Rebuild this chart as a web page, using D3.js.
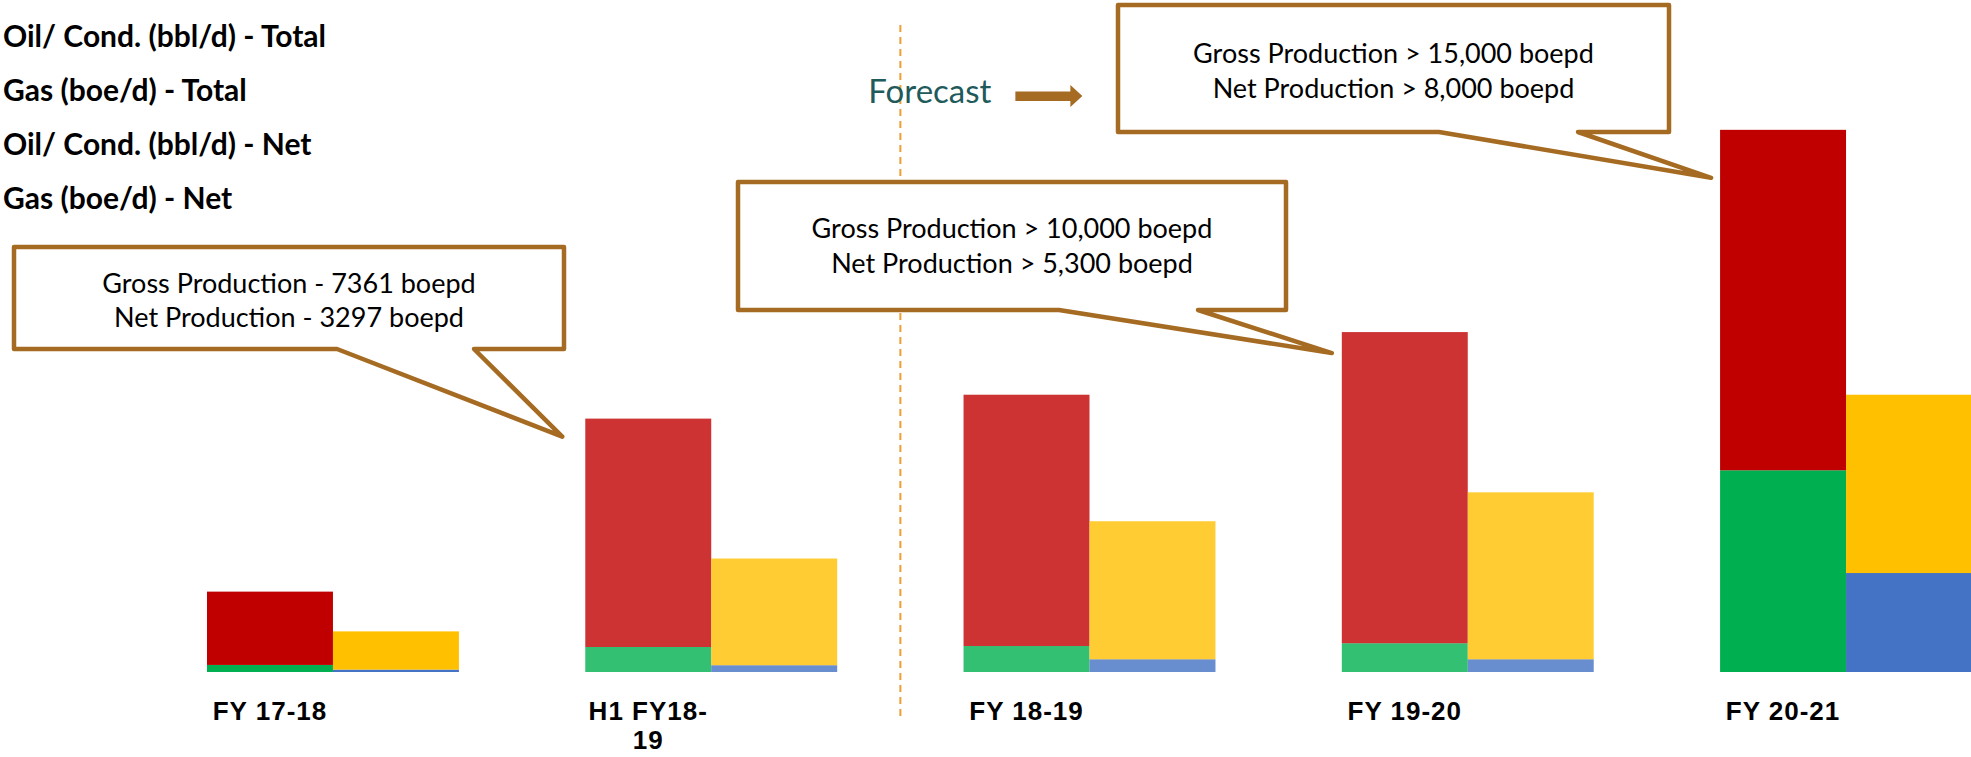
<!DOCTYPE html>
<html>
<head>
<meta charset="utf-8">
<script src="https://cdn.jsdelivr.net/npm/d3@7"></script>
<style>
  body { margin: 0; background: #fff; }
  svg { display: block; }
</style>
</head>
<body>
<svg id="chart" width="1971" height="757"></svg>
<script>
// data (boepd)
var categories = ["FY 17-18", "H1 FY18-19", "FY 18-19", "FY 19-20", "FY 20-21"];
var oilTotal = [2130, 6635, 7300, 9040, 9890];
var gasTotal = [205, 726, 755, 835, 5860];
var oilNet   = [1110, 3100, 4010, 4850, 5180];
var gasNet   = [70, 197, 370, 370, 2875];

var legendLabels = ["Oil/ Cond. (bbl/d) - Total", "Gas (boe/d) - Total",
                    "Oil/ Cond. (bbl/d) - Net", "Gas (boe/d) - Net"];

var calloutCats = ["H1 FY18-19", "FY 19-20", "FY 20-21"];
var calloutText = [
  ["Gross Production - 7361 boepd", "Net Production - 3297 boepd"],
  ["Gross Production > 10,000 boepd", "Net Production > 5,300 boepd"],
  ["Gross Production > 15,000 boepd", "Net Production > 8,000 boepd"]
];
var forecastLabel = "Forecast";
var forecastStart = "FY 18-19";

var svg = d3.select("#chart");
var baseY = 672;

var rows = categories.map(function(c, i) {
  return { cat: c, oilTotal: oilTotal[i], gasTotal: gasTotal[i], oilNet: oilNet[i], gasNet: gasNet[i] };
});

var x = d3.scaleBand().domain(categories).range([207, 1972]).paddingInner(0.334).paddingOuter(0);
var x1 = d3.scaleBand().domain(["total", "net"]).range([0, x.bandwidth()]);
var y = d3.scaleLinear().domain([0, 16000]).range([baseY, baseY - 16000 / 29.05]);

var colors = { gasTotal: "#00B050", oilTotal: "#C00000", gasNet: "#4472C4", oilNet: "#FFC000" };
// these three columns are drawn a bit lighter in the original
var faded = ["H1 FY18-19", "FY 18-19", "FY 19-20"];

var groups = [
  { key: "total", stack: d3.stack().keys(["gasTotal", "oilTotal"])(rows) },
  { key: "net",   stack: d3.stack().keys(["gasNet", "oilNet"])(rows) }
];

groups.forEach(function(g) {
  svg.append("g")
    .selectAll("g")
    .data(g.stack)
    .enter()
    .append("g")
    .attr("fill", function(s) { return colors[s.key]; })
    .selectAll("rect")
    .data(function(s) { return s; })
    .enter()
    .append("rect")
    .attr("x", function(d) { return x(d.data.cat) + x1(g.key); })
    .attr("y", function(d) { return y(d[1]); })
    .attr("width", x1.bandwidth())
    .attr("height", function(d) { return y(d[0]) - y(d[1]); })
    .attr("fill-opacity", function(d) { return faded.indexOf(d.data.cat) >= 0 ? 0.8 : 1; });
});

// category labels, centred under the first bar, wrapped to its width
var labelFont = "bold 26px 'Liberation Sans', Arial, sans-serif";
svg.append("g")
  .selectAll("text")
  .data(categories)
  .enter()
  .append("text")
  .attr("text-anchor", "middle")
  .style("font", labelFont)
  .style("letter-spacing", "1px")
  .attr("fill", "#000")
  .each(function(c) {
    var t = d3.select(this);
    var cx = x(c) + x1("total") + x1.bandwidth() / 2;
    var tokens = c.match(/[^\s-]+-?|\s+/g);
    var lines = [], cur = "";
    tokens.forEach(function(tok) {
      var trial = cur + tok;
      var probe = t.append("tspan").text(trial.trim());
      var w = probe.node().getComputedTextLength();
      probe.remove();
      if (w > x1.bandwidth() && cur.trim() !== "") { lines.push(cur.trim()); cur = tok.trim(); }
      else cur = trial;
    });
    lines.push(cur.trim());
    lines.forEach(function(l, i) {
      t.append("tspan").attr("x", cx).attr("y", 720 + i * 29).text(l);
    });
  });

// legend (text only)
svg.append("g")
  .selectAll("text")
  .data(legendLabels)
  .enter()
  .append("text")
  .attr("x", 3)
  .attr("y", function(d, i) { return 47 + i * 54; })
  .style("font", "bold 30px Lato, 'Open Sans', sans-serif")
  .attr("fill", "#000")
  .text(function(d) { return d; });

// forecast divider
var dashX = x(forecastStart) - (x.step() - x.bandwidth()) / 2;
svg.append("line")
  .attr("x1", dashX).attr("x2", dashX)
  .attr("y1", 25).attr("y2", 720)
  .attr("stroke", "#ED9F36")
  .attr("stroke-width", 2)
  .attr("stroke-dasharray", "7,5");

svg.append("text")
  .attr("x", dashX - 32)
  .attr("y", 103)
  .style("font", "33px Lato, 'Open Sans', sans-serif")
  .attr("fill", "#215A5B")
  .text(forecastLabel);

var brown = "#A66B22";
svg.append("path")
  .attr("d", d3.line()([[dashX + 115, 91.5], [dashX + 170, 91.5], [dashX + 170, 85], [dashX + 182, 96],
                        [dashX + 170, 107], [dashX + 170, 101], [dashX + 115, 101]]) + "Z")
  .attr("fill", brown);

// callouts: box geometry in px, tip hangs off the bar it points to
var calloutLayout = [
  { x0: 14,   y0: 247, x1: 564,  y1: 349, bL: 337,  bR: 474,  dx: -23, dy: 18, ty: [293, 327] },
  { x0: 738,  y0: 182, x1: 1286, y1: 310, bL: 1059, bR: 1198, dx: -10, dy: 21, ty: [238, 273] },
  { x0: 1118, y0: 5,   x1: 1669, y1: 132, bL: 1439, bR: 1578, dx: -9,  dy: 48, ty: [63, 98] }
];

calloutCats.forEach(function(c, i) {
  var L = calloutLayout[i];
  var idx = categories.indexOf(c);
  var tipX = x(c) + L.dx;
  var tipY = y(oilTotal[idx] + gasTotal[idx]) + L.dy;
  var pts = [[L.x0, L.y0], [L.x1, L.y0], [L.x1, L.y1], [L.bR, L.y1], [tipX, tipY], [L.bL, L.y1], [L.x0, L.y1]];
  svg.append("path")
    .attr("d", d3.line()(pts) + "Z")
    .attr("fill", "#fff")
    .attr("stroke", brown)
    .attr("stroke-width", 4.5)
    .attr("stroke-linejoin", "round");
  svg.append("g")
    .selectAll("text")
    .data(calloutText[i])
    .enter()
    .append("text")
    .attr("x", (L.x0 + L.x1) / 2)
    .attr("y", function(d, j) { return L.ty[j]; })
    .attr("text-anchor", "middle")
    .style("font", "27px Lato, 'Open Sans', sans-serif")
    .attr("fill", "#000")
    .text(function(d) { return d; });
});
</script>
</body>
</html>
